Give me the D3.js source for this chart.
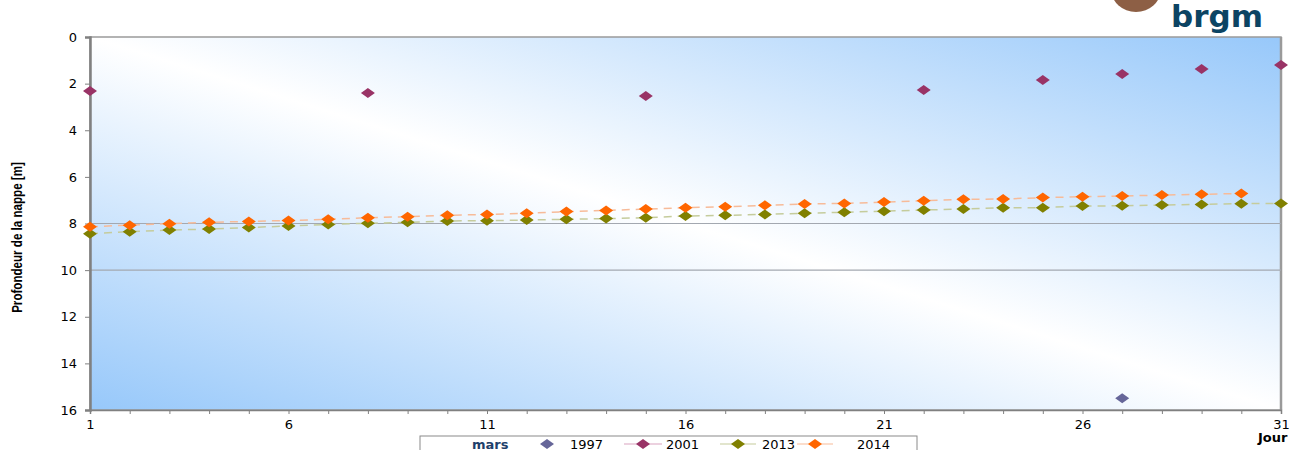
<!DOCTYPE html>
<html lang="fr">
<head>
<meta charset="UTF-8">
<title>Profondeur de la nappe - mars</title>
<script src="https://d3js.org/d3.v7.min.js"></script>
<style>
  body { margin: 0; background: #fff; overflow: hidden; }
  svg { display: block; }
  .tick-label { font-family: "DejaVu Sans", sans-serif; font-size: 13px; fill: #000; }
  .legend-text { font-family: "DejaVu Sans", sans-serif; font-size: 13px; fill: #000; }
</style>
</head>
<body>
<div id="chart"></div>
<script>
// ------ data (jour du mois de mars, profondeur en m) ------
const jours = [1,2,3,4,5,6,7,8,9,10,11,12,13,14,15,16,17,18,19,20,21,22,23,24,25,26,27,28,29,30,31];
const xTicksLabels = [1, 6, 11, 16, 21, 26, 31];
const yTicks = [0, 2, 4, 6, 8, 10, 12, 14, 16];
const gridValues = [8, 10];

const nappe1997 = [null,null,null,null,null,null,null,null,null,null,null,null,null,null,null,
                   null,null,null,null,null,null,null,null,null,null,null,15.5,null,null,null,null];
const nappe2001 = [2.32,null,null,null,null,null,null,2.40,null,null,null,null,null,null,2.53,
                   null,null,null,null,null,null,2.27,null,null,1.84,null,1.59,null,1.37,null,1.20];
const nappe2013 = [8.44,8.35,8.28,8.24,8.17,8.11,8.04,7.99,7.95,7.89,7.88,7.85,7.82,7.79,7.75,
                   7.68,7.65,7.61,7.56,7.52,7.47,7.42,7.38,7.32,7.32,7.25,7.24,7.21,7.18,7.15,7.14];
const nappe2014 = [8.14,8.07,8.01,7.95,7.91,7.87,7.82,7.75,7.71,7.65,7.61,7.56,7.49,7.44,7.38,
                   7.32,7.28,7.22,7.16,7.14,7.08,7.02,6.96,6.95,6.89,6.85,6.82,6.78,6.75,6.71,null];

const series = [
  { name: "1997", values: nappe1997, color: "#666699", line: null },
  { name: "2001", values: nappe2001, color: "#993366", line: "#d9a3bf" },
  { name: "2013", values: nappe2013, color: "#808000", line: "#c5cc9c" },
  { name: "2014", values: nappe2014, color: "#ff6600", line: "#f7bb99" }
];

// ------ layout ------
const W = 1299, H = 450;
const plot = { left: 90, right: 1281, top: 37, bottom: 410 };

const svg = d3.select("#chart").append("svg")
  .attr("width", W).attr("height", H);

const x = d3.scaleLinear().domain([1, 31]).range([plot.left, plot.right]);
const y = d3.scaleLinear().domain([0, 16]).range([plot.top, plot.bottom]);

// background gradient of the plot area
const defs = svg.append("defs");
const grad = defs.append("linearGradient")
  .attr("id", "bg").attr("x1", 0).attr("y1", 1).attr("x2", 1).attr("y2", 0);
grad.append("stop").attr("offset", "0%").attr("stop-color", "#97c8fa");
grad.append("stop").attr("offset", "50%").attr("stop-color", "#ffffff");
grad.append("stop").attr("offset", "100%").attr("stop-color", "#97c8fa");

svg.append("rect")
  .attr("x", plot.left).attr("y", plot.top)
  .attr("width", plot.right - plot.left).attr("height", plot.bottom - plot.top)
  .attr("fill", "url(#bg)")
  .attr("stroke", "#9a9a9a").attr("stroke-width", 1.5);
svg.append("line")
  .attr("x1", plot.right).attr("x2", plot.right).attr("y1", plot.top).attr("y2", plot.bottom)
  .attr("stroke", "#9a9a9a").attr("stroke-width", 2.5);

// title (mostly cut off at the top in the original)
svg.append("text")
  .attr("x", 560).attr("y", -3)
  .attr("text-anchor", "middle")
  .style("font-family", "Liberation Sans, sans-serif")
  .style("font-weight", "bold").style("font-size", "17px")
  .text("Profondeur de la nappe au piézomètre (mars, 1997 - 2014)");

// logo
svg.append("ellipse").attr("cx", 1136).attr("cy", -11).attr("rx", 25).attr("ry", 23).attr("fill", "#8d5f45");
svg.append("text")
  .attr("x", 1171).attr("y", 27)
  .style("font-family", "DejaVu Sans, sans-serif").style("font-weight", "bold").style("font-size", "31px")
  .attr("fill", "#0c4463")
  .text("brgm");

// grid lines
svg.append("g").selectAll("line")
  .data(gridValues)
  .join("line")
    .attr("x1", plot.left).attr("x2", plot.right)
    .attr("y1", d => y(d)).attr("y2", d => y(d))
    .attr("stroke", "#a3a8b0").attr("stroke-width", 1.2);

// axes
const yAxis = d3.axisLeft(y).tickValues(yTicks).tickSize(5).tickPadding(8);
const gy = svg.append("g").attr("transform", `translate(${plot.left},0)`).call(yAxis);
gy.select(".domain").attr("stroke", "#808080").attr("stroke-width", 2.5);
gy.selectAll(".tick line").attr("stroke", "#808080");
gy.selectAll(".tick text").attr("class", "tick-label").attr("fill", "#000");

const xAxis = d3.axisBottom(x).tickValues(jours).tickSize(4).tickFormat(d => xTicksLabels.includes(d) ? d : "").tickPadding(6);
const gx = svg.append("g").attr("transform", `translate(0,${plot.bottom})`).call(xAxis);
gx.select(".domain").attr("stroke", "#808080").attr("stroke-width", 1.5);
gx.selectAll(".tick line").attr("stroke", "#808080");
gx.selectAll(".tick text").attr("class", "tick-label").attr("fill", "#000");
svg.selectAll(".tick text").attr("font-family", null).attr("font-size", null);

// axis titles
svg.append("text")
  .attr("transform", `translate(22,${(plot.top + plot.bottom) / 2 + 14}) rotate(-90) scale(0.8,1)`)
  .attr("text-anchor", "middle")
  .style("font-family", "'Liberation Sans', sans-serif")
  .style("font-weight", "bold").style("font-size", "14.5px")
  .text("Profondeur de la nappe [m]");

svg.append("text")
  .attr("x", 1258).attr("y", 442)
  .style("font-family", "DejaVu Sans, sans-serif").style("font-weight", "bold").style("font-size", "13px")
  .text("Jour");

// lines
const lineGen = d3.line()
  .defined(d => d.v != null)
  .x(d => x(d.j)).y(d => y(d.v));

const diamond = (cx, cy) => `M${cx - 7},${cy} L${cx},${cy - 5} L${cx + 7},${cy} L${cx},${cy + 5} Z`;

series.forEach(s => {
  const pts = jours.map((j, i) => ({ j: j, v: s.values[i] }));
  if (s.line && s.name !== "2001") {
    svg.append("path")
      .datum(pts)
      .attr("d", lineGen)
      .attr("fill", "none")
      .attr("stroke", s.line).attr("stroke-width", 1.5)
      .attr("stroke-dasharray", "8,6");
  }
  svg.append("g").selectAll("path")
    .data(pts.filter(d => d.v != null))
    .join("path")
      .attr("d", d => diamond(x(d.j), y(d.v)))
      .attr("fill", s.color);
});

// legend
const lg = svg.append("g");
lg.append("rect")
  .attr("x", 420).attr("y", 436).attr("width", 497).attr("height", 30)
  .attr("fill", "#fff").attr("stroke", "#8a8a8a");
lg.append("text")
  .attr("x", 472).attr("y", 449)
  .style("font-family", "DejaVu Sans, sans-serif").style("font-weight", "bold").style("font-size", "13px")
  .attr("fill", "#1f3f6b")
  .text("mars");

const legendPos = [
  { sym: 547, x1: null, x2: null, tx: 570 },
  { sym: 643, x1: 624, x2: 662, tx: 666 },
  { sym: 738, x1: 720, x2: 756, tx: 762 },
  { sym: 815, x1: 797, x2: 833, tx: 857 }
];
series.forEach((s, i) => {
  const p = legendPos[i];
  if (s.line) {
    lg.append("line").attr("x1", p.x1).attr("x2", p.x2).attr("y1", 444).attr("y2", 444)
      .attr("stroke", s.line).attr("stroke-width", 1.2);
  }
  lg.append("path").attr("d", diamond(p.sym, 444)).attr("fill", s.color);
  lg.append("text").attr("class", "legend-text").attr("x", p.tx).attr("y", 449).text(s.name);
});
</script>
</body>
</html>
